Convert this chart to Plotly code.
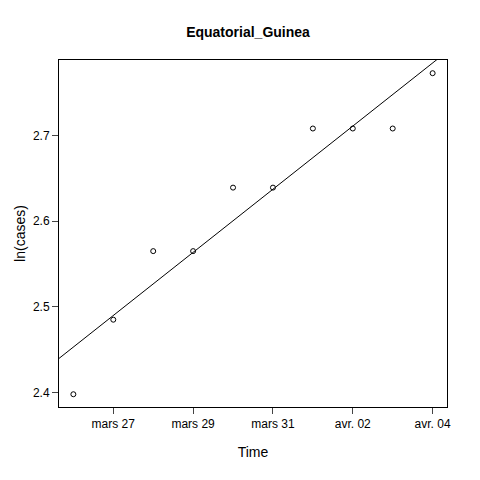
import numpy as np
import plotly.graph_objects as go

days = [0, 1, 2, 3, 4, 5, 6, 7, 8, 9]  # Mar 26 .. Apr 4
cases = [11, 12, 13, 13, 14, 14, 15, 15, 15, 16]
lncases = list(np.log(cases))
tick_days = [1, 3, 5, 7, 9]
tick_labels = ["mars 27", "mars 29", "mars 31", "avr. 02", "avr. 04"]

b, a = np.polyfit(days, lncases, 1)
lx = [-2, 11]
ly = [a + b * v for v in lx]

fig = go.Figure()
fig.add_trace(go.Scatter(x=lx, y=ly, mode="lines", line=dict(color="black", width=1), hoverinfo="skip"))
fig.add_trace(go.Scatter(x=days, y=lncases, mode="markers",
                         marker=dict(symbol="circle-open", size=5, color="black", line=dict(width=1))))
fnt = dict(family="Liberation Sans, Arial", size=12, color="black")
fig.update_layout(
    width=480, height=480, showlegend=False, plot_bgcolor="white", paper_bgcolor="white",
    margin=dict(l=51, r=41, t=52, b=81, autoexpand=False), font=fnt,
    title=dict(text="<b>Equatorial_Guinea</b>", x=0.5, xanchor="center", y=0.95, yanchor="middle",
               font=dict(family="Liberation Sans, Arial", size=14, color="black")),
    xaxis=dict(range=[-0.36, 9.36], tickvals=tick_days, ticktext=tick_labels, ticks="outside",
               ticklen=6, showgrid=False, zeroline=False, showline=True, mirror=True, automargin=False,
               linecolor="black", linewidth=1, title=dict(text="Time", standoff=16)),
    yaxis=dict(range=[2.383, 2.788], tickvals=[2.4, 2.5, 2.6, 2.7], ticktext=["2.4", "2.5", "2.6", "2.7"],
               ticks="outside", ticklen=6, showgrid=False, zeroline=False, showline=True, mirror=True,
               automargin=False, linecolor="black", linewidth=1, tickangle=0,
               title=dict(text="ln(cases)", standoff=4)),
)
fig.write_html("out.html")
